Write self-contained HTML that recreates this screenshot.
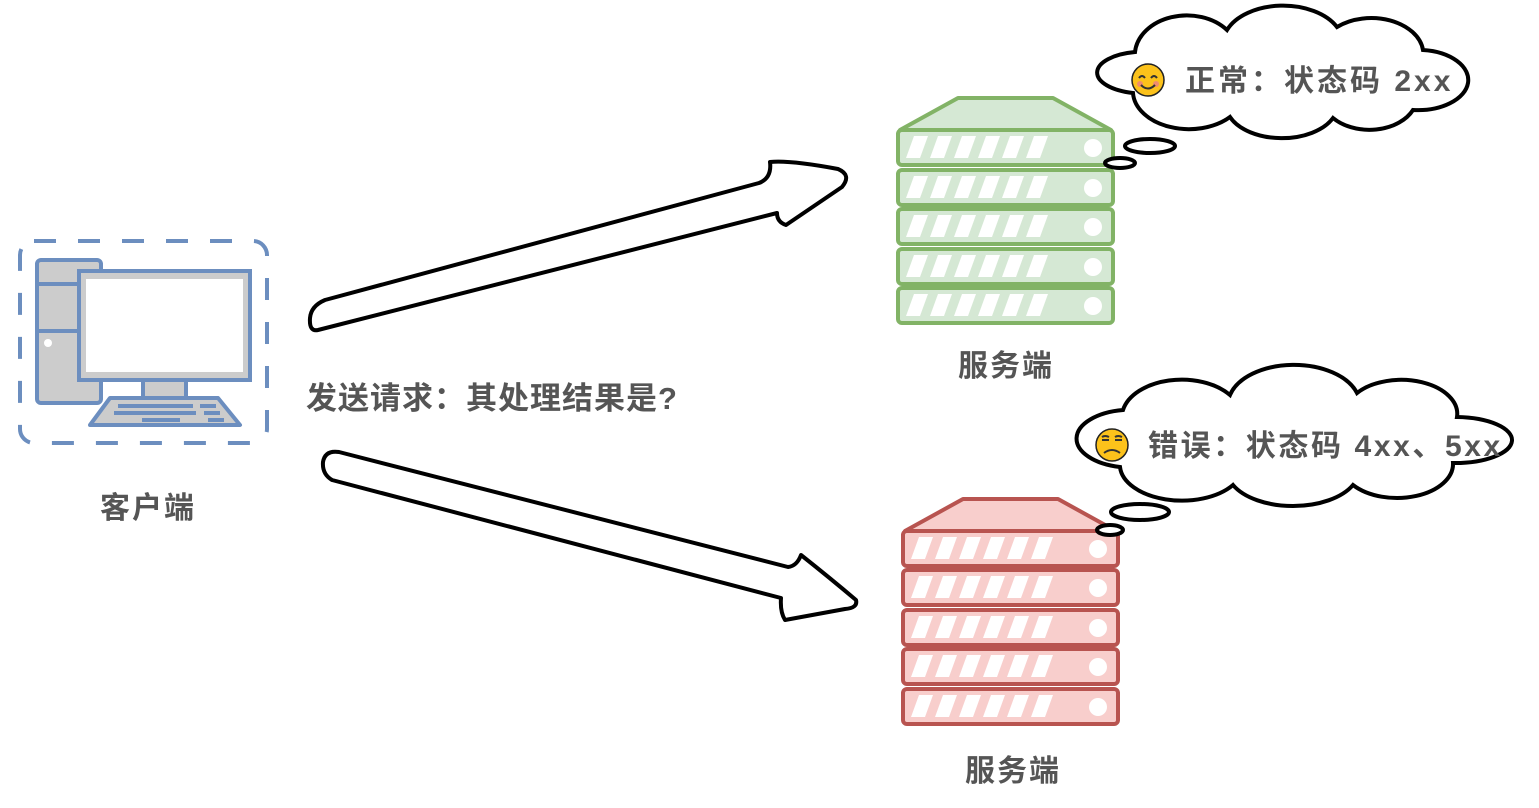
<!DOCTYPE html>
<html><head><meta charset="utf-8"><style>
html,body{margin:0;padding:0;background:#fff;}
svg text{font-family:"Liberation Sans","Noto Sans CJK SC",sans-serif;font-weight:bold;fill:#555;}
</style></head><body>
<svg width="1539" height="803" viewBox="0 0 1539 803" xmlns="http://www.w3.org/2000/svg">
<defs>
 <g id="stripes">
  <polygon points="8,28 22,28 30,6 16,6"/>
  <polygon points="32,28 46,28 54,6 40,6"/>
  <polygon points="56,28 70,28 78,6 64,6"/>
  <polygon points="80,28 94,28 102,6 88,6"/>
  <polygon points="104,28 118,28 126,6 112,6"/>
  <polygon points="128,28 142,28 150,6 136,6"/>
 </g>
</defs>

<!-- client -->
<rect x="20" y="241" width="247" height="202" rx="14" fill="none" stroke="#6c8ebf" stroke-width="4" stroke-dasharray="22,22"/>
<rect x="37" y="260" width="64" height="143" rx="4" fill="#cccccc" stroke="#6c8ebf" stroke-width="4"/>
<line x1="37" y1="284" x2="80" y2="284" stroke="#6c8ebf" stroke-width="4"/>
<line x1="37" y1="331" x2="80" y2="331" stroke="#6c8ebf" stroke-width="4"/>
<circle cx="48" cy="343" r="4" fill="#fff"/>
<rect x="79" y="271" width="171" height="109" fill="#cccccc" stroke="#6c8ebf" stroke-width="4"/>
<rect x="86" y="279" width="157" height="93" fill="#fff"/>
<rect x="143" y="380" width="43" height="18" fill="#cccccc" stroke="#6c8ebf" stroke-width="4"/>
<polygon points="110,398 218,398 240,425 90,425" fill="#cccccc" stroke="#6c8ebf" stroke-width="4" stroke-linejoin="round"/>
<g stroke="#6c8ebf" stroke-width="4">
 <line x1="118" y1="406" x2="193" y2="406"/><line x1="200" y1="406" x2="216" y2="406"/>
 <line x1="114" y1="413" x2="196" y2="413"/><line x1="204" y1="413" x2="220" y2="413"/>
 <line x1="142" y1="420" x2="180" y2="420"/><line x1="208" y1="420" x2="224" y2="420"/>
</g>
<text x="148" y="518" font-size="30" letter-spacing="2" text-anchor="middle">客户端</text>

<!-- arrows -->
<path d="M325,300 L759,183 Q772,178 770,162 Q790,160 838,169 Q852,175 842,187 L786,225 Q777,222 777,213 L318,330 Q309,332 310,318 Q311,306 325,300 Z" fill="#fff" stroke="#000" stroke-width="4" stroke-linejoin="round"/>
<path d="M339,452 L788,567 Q797,566 801,555 Q830,578 856,600 Q858,608 845,609 L785,620 Q780,612 781,598 L332,480 Q322,474 323,462 Q325,450 339,452 Z" fill="#fff" stroke="#000" stroke-width="4" stroke-linejoin="round"/>
<text x="306" y="409" font-size="31" letter-spacing="1">发送请求：其处理结果是?</text>

<!-- green server -->
<g stroke="#82b366" stroke-width="4" fill="#d5e8d4" stroke-linejoin="round">
 <polygon points="958,98 1053,98 1111,130 900,130"/>
 <rect x="898" y="130" width="215" height="35" rx="4"/>
 <rect x="898" y="170" width="215" height="35" rx="4"/>
 <rect x="898" y="209" width="215" height="35" rx="4"/>
 <rect x="898" y="249" width="215" height="35" rx="4"/>
 <rect x="898" y="288" width="215" height="35" rx="4"/>
</g>
<g fill="#fff">
 <use href="#stripes" x="898" y="130"/><use href="#stripes" x="898" y="170"/><use href="#stripes" x="898" y="209"/><use href="#stripes" x="898" y="249"/><use href="#stripes" x="898" y="288"/>
 <circle cx="1093" cy="148" r="9"/><circle cx="1093" cy="188" r="9"/><circle cx="1093" cy="227" r="9"/><circle cx="1093" cy="267" r="9"/><circle cx="1093" cy="306" r="9"/>
</g>
<text x="1006" y="376" font-size="30" letter-spacing="2" text-anchor="middle">服务端</text>

<!-- red server -->
<g stroke="#b85450" stroke-width="4" fill="#f8cecc" stroke-linejoin="round">
 <polygon points="963,499 1058,499 1116,531 905,531"/>
 <rect x="903" y="531" width="215" height="35" rx="4"/>
 <rect x="903" y="570" width="215" height="35" rx="4"/>
 <rect x="903" y="610" width="215" height="35" rx="4"/>
 <rect x="903" y="649" width="215" height="35" rx="4"/>
 <rect x="903" y="689" width="215" height="35" rx="4"/>
</g>
<g fill="#fff">
 <use href="#stripes" x="903" y="531"/><use href="#stripes" x="903" y="570"/><use href="#stripes" x="903" y="610"/><use href="#stripes" x="903" y="649"/><use href="#stripes" x="903" y="689"/>
 <circle cx="1098" cy="549" r="9"/><circle cx="1098" cy="588" r="9"/><circle cx="1098" cy="628" r="9"/><circle cx="1098" cy="667" r="9"/><circle cx="1098" cy="707" r="9"/>
</g>
<text x="1013" y="781" font-size="30" letter-spacing="2" text-anchor="middle">服务端</text>

<!-- cloud 1 -->
<g fill="#fff" stroke="#000" stroke-width="4">
<path d="M1135,52 A52,40 0 0 1 1227,30 A60,38 0 0 1 1337,27 A52,36 0 0 1 1423,50 A50,30 0 0 1 1413,110 A48,34 0 0 1 1333,118 A56,34 0 0 1 1230,117 A56,38 0 0 1 1133,93 A47,21 0 0 1 1135,52 Z"/>
<ellipse cx="1150" cy="146" rx="25" ry="7"/>
<ellipse cx="1120" cy="163" rx="15" ry="5"/>
</g>
<circle cx="1148" cy="80" r="16" fill="#fcc21b" stroke="#222" stroke-width="1.5"/>
<circle cx="1140" cy="84" r="3" fill="#f08c6c"/><circle cx="1156" cy="84" r="3" fill="#f08c6c"/>
<path d="M1139,78 q3,-4 6,0 M1151,78 q3,-4 6,0 M1141,85 q7,7 14,0" fill="none" stroke="#333" stroke-width="2"/>
<text x="1185" y="91" font-size="30" letter-spacing="3">正常：状态码 2xx</text>

<!-- cloud 2 -->
<g fill="#fff" stroke="#000" stroke-width="4">
<path d="M1123,410 A60,38 0 0 1 1230,395 A66,40 0 0 1 1357,393 A56,34 0 0 1 1457,417 A57,23 0 0 1 1453,463 A56,34 0 0 1 1353,485 A66,36 0 0 1 1233,485 A62,36 0 0 1 1120,467 A55,29 0 0 1 1123,410 Z"/>
<ellipse cx="1140" cy="512" rx="29" ry="8"/>
<ellipse cx="1110" cy="530" rx="13" ry="5"/>
</g>
<circle cx="1112" cy="445" r="16" fill="#fcc21b" stroke="#222" stroke-width="1.5"/>
<path d="M1102,440 h7 M1115,440 h7 M1102,437 q3,-2 7,0 M1115,437 q3,-2 7,0 M1104,453 q8,-6 16,0" fill="none" stroke="#333" stroke-width="2"/>
<text x="1148" y="456" font-size="30" letter-spacing="2.6">错误：状态码 4xx、5xx</text>
</svg>
</body></html>
